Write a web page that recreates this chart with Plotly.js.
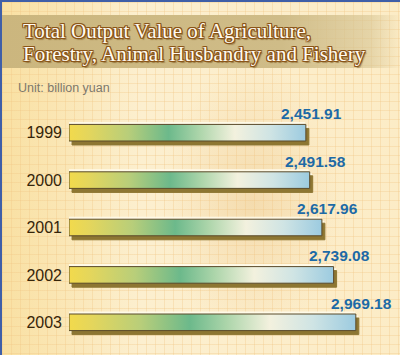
<!DOCTYPE html>
<html>
<head>
<meta charset="utf-8">
<script src="https://cdn.plot.ly/plotly-3.0.1.min.js"></script>
<style>
  html, body { margin: 0; padding: 0; }
  #wrap {
    position: relative; width: 400px; height: 355px; overflow: hidden;
    background-color: #fcecc6;
    background-image:
      repeating-linear-gradient(to right, rgba(240,196,130,0.32) 0px, rgba(240,196,130,0.32) 1px, transparent 1px, transparent 9px),
      repeating-linear-gradient(to bottom, rgba(240,196,130,0.32) 0px, rgba(240,196,130,0.32) 1px, transparent 1px, transparent 9px),
      radial-gradient(ellipse 90px 140px at 250px 200px, rgba(238,205,150,0.55), rgba(238,205,150,0) 100%),
      linear-gradient(to right, #f9e0a2 0%, #fcefcf 35%, #fcecc6 100%);
    border-top: 2px solid #3f5fa8; border-left: 2px solid #3f5fa8;
    box-sizing: border-box;
  }
  #banner {
    position: absolute; left: 0; top: 13px; width: 400px; height: 53px;
    background: linear-gradient(to right, #cbb67e 0%, #cfbc88 70%, rgba(214,196,146,0.6) 92%, rgba(214,196,146,0) 100%);
  }
  #chart { position: absolute; left: -2px; top: -2px; width: 400px; height: 355px; }
</style>
</head>
<body>
<div id="wrap"><div id="banner"></div><div id="chart"></div></div>
<script>
const years = ['1999', '2000', '2001', '2002', '2003'];
const values = [2451.91, 2491.58, 2617.96, 2739.08, 2969.18];
const valueLabels = ['2,451.91', '2,491.58', '2,617.96', '2,739.08', '2,969.18'];
const titleLines = ['Total Output Value of Agriculture,', 'Forestry, Animal Husbandry and Fishery'];
const unitText = 'Unit: billion yuan';

const W = 400, H = 355;
const M = {l: 69, r: 0, t: 109, b: 9};
const pw = W - M.l - M.r, ph = H - M.t - M.b;
const px = p => (p - M.l) / pw;
const py = p => (H - M.b - p) / ph;

const outline = '#8a5518';
const shadow = ['1px 0 0 '+outline, '-1px 0 0 '+outline, '0 1px 0 '+outline, '0 -1px 0 '+outline,
                '1px 1px 0 '+outline, '-1px -1px 0 '+outline, '1px -1px 0 '+outline, '-1px 1px 0 '+outline,
                '1.5px 1.5px 1px rgba(120,80,20,0.6)'].join(', ');

const annotations = [];
years.forEach((y, i) => {
  annotations.push({
    x: values[i], y: i, xref: 'x', yref: 'y', text: valueLabels[i], showarrow: false,
    xanchor: 'center', yanchor: 'middle', xshift: 6, yshift: 19,
    font: {family: 'Liberation Sans, Arial, sans-serif', size: 15.5, color: '#1d6aa6', weight: 'bold'}
  });
});
titleLines.forEach((t, i) => {
  annotations.push({
    x: px(21), y: py(i === 0 ? 31 : 54), xref: 'paper', yref: 'paper', text: t, showarrow: false,
    xanchor: 'left', yanchor: 'middle',
    font: {family: 'Liberation Serif, Times New Roman, serif', size: 21, color: '#fffaf0', shadow: shadow}
  });
});
annotations.push({
  x: px(16), y: py(88), xref: 'paper', yref: 'paper', text: unitText, showarrow: false,
  xanchor: 'left', yanchor: 'middle',
  font: {family: 'Liberation Sans, Arial, sans-serif', size: 12.5, color: '#7d786c'}
});

const trace = {
  type: 'bar', orientation: 'h', x: values, y: years,
  marker: {color: '#9fcfe0', line: {color: '#5b4a2a', width: 1}},
  hoverinfo: 'skip'
};

const layout = {
  width: W, height: H, margin: M,
  paper_bgcolor: 'rgba(0,0,0,0)', plot_bgcolor: 'rgba(0,0,0,0)',
  showlegend: false, bargap: 0.65,
  xaxis: {range: [0, pw / 0.0966], autorange: false, visible: false, fixedrange: true},
  yaxis: {type: 'category', categoryorder: 'array', categoryarray: years,
          range: [years.length - 0.5, -0.5], autorange: false,
          showgrid: false, zeroline: false, showline: false,
          ticks: '', ticklabelstandoff: 6,
          tickfont: {family: 'Liberation Sans, Arial, sans-serif', size: 16, color: '#35250a'}},
  annotations: annotations
};

Plotly.newPlot('chart', [trace], layout, {staticPlot: true, displayModeBar: false}).then(gd => {
  const svg = gd.querySelector('svg.main-svg');
  const NS = 'http://www.w3.org/2000/svg';
  let defs = svg.querySelector('defs');
  if (!defs) { defs = document.createElementNS(NS, 'defs'); svg.insertBefore(defs, svg.firstChild); }
  const g = document.createElementNS(NS, 'linearGradient');
  g.setAttribute('id', 'barGrad'); g.setAttribute('x1', '0'); g.setAttribute('y1', '0');
  g.setAttribute('x2', '1'); g.setAttribute('y2', '0');
  const stops = [[0, '#f2da4c'], [0.08, '#e4d65c'], [0.25, '#b8ce7a'], [0.42, '#6cb98b'],
                 [0.55, '#acd5aa'], [0.7, '#f3f1de'], [0.85, '#cfe4e4'], [1, '#9ccbe0']];
  stops.forEach(([o, c]) => {
    const s = document.createElementNS(NS, 'stop');
    s.setAttribute('offset', o); s.setAttribute('stop-color', c); g.appendChild(s);
  });
  defs.appendChild(g);
  gd.querySelectorAll('.barlayer .point path').forEach(p => {
    p.style.fill = 'url(#barGrad)';
    p.style.fillOpacity = 1;
    p.style.filter = 'drop-shadow(3px 4px 0 #8d7632) drop-shadow(-1px -2px 0 rgba(255,252,235,0.9))';
  });
});
</script>
</body>
</html>
